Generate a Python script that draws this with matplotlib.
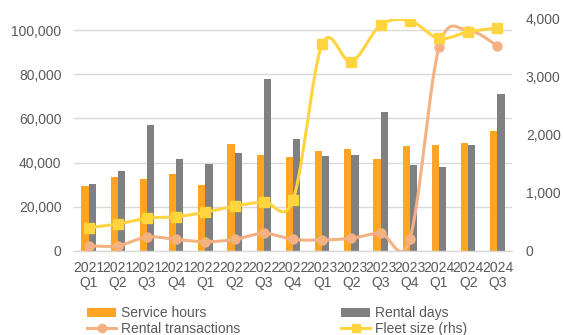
import numpy as np
import matplotlib
matplotlib.use("Agg")
import matplotlib.pyplot as plt
from matplotlib.ticker import FuncFormatter
from matplotlib.patches import Patch
from matplotlib.lines import Line2D

plt.rcParams['font.family'] = ['Liberation Sans', 'DejaVu Sans']

quarters = ["2021\nQ1", "2021\nQ2", "2021\nQ3", "2021\nQ4",
            "2022\nQ1", "2022\nQ2", "2022\nQ3", "2022\nQ4",
            "2023\nQ1", "2023\nQ2", "2023\nQ3", "2023\nQ4",
            "2024\nQ1", "2024\nQ2", "2024\nQ3"]
service_hours = [29500, 33300, 32400, 35000, 29700, 48400, 43600, 42500,
                 45200, 46100, 41500, 47400, 48000, 49000, 54300]
rental_days = [30200, 36100, 57000, 41500, 39400, 44200, 77800, 50700,
               43100, 43600, 62900, 38800, 38100, 47800, 70900]
rental_transactions = [90, 90, 240, 200, 160, 200, 305, 200,
                       190, 220, 305, 205, 3510, 3800, 3535]
fleet_size = [400, 465, 565, 590, 670, 775, 850, 880,
              3565, 3265, 3895, 3970, 3665, 3780, 3845]

ORANGE = "#FFA523"
GREY = "#808080"
SALMON = "#F4B183"
YELLOW = "#FFD43F"
TXT = "#595959"
GRID = "#D9D9D9"


def smooth(x, y, n=30):
    x = np.asarray(x, float)
    y = np.asarray(y, float)
    pts = np.column_stack([x, y])
    out = []
    for i in range(len(pts) - 1):
        p0 = pts[i - 1] if i > 0 else pts[i]
        p1 = pts[i]
        p2 = pts[i + 1]
        p3 = pts[i + 2] if i + 2 < len(pts) else pts[i + 1]
        c1 = p1 + (p2 - p0) / 6.0
        c2 = p2 - (p3 - p1) / 6.0
        t = np.linspace(0, 1, n)[:, None]
        seg = ((1 - t) ** 3) * p1 + 3 * ((1 - t) ** 2) * t * c1 + 3 * (1 - t) * t ** 2 * c2 + t ** 3 * p2
        if i > 0:
            seg = seg[1:]
        out.append(seg)
    out = np.vstack(out)
    return out[:, 0], out[:, 1]


fig = plt.figure(figsize=(5.63, 3.35), dpi=100)
ax = fig.add_axes([74 / 563, 1 - 251 / 335, (512 - 74) / 563, (251 - 19) / 335])
ax2 = ax.twinx()

x = np.arange(len(quarters))
w = 0.245
ax.bar(x - w / 2, service_hours, width=w, color=ORANGE, zorder=2)
ax.bar(x + w / 2, rental_days, width=w, color=GREY, zorder=2)

ax.set_xlim(-0.5, len(quarters) - 0.5)
ax.set_ylim(0, 105000)
ax.set_yticks(np.arange(0, 100001, 20000))
ax.yaxis.set_major_formatter(FuncFormatter(lambda v, p: f"{int(v):,}"))
ax.grid(axis='y', color=GRID, linewidth=1.0, zorder=0)
ax.set_axisbelow(True)
ax.set_xticks(x)
ax.set_xticklabels(quarters, linespacing=1.1)
ax.tick_params(axis='x', length=0, pad=7, labelsize=10, labelcolor=TXT)
ax.tick_params(axis='y', length=0, pad=9, labelsize=10, labelcolor=TXT)
for s in ['top', 'right', 'left']:
    ax.spines[s].set_visible(False)
ax.spines['bottom'].set_color(GRID)
ax.spines['bottom'].set_linewidth(1.0)

sx, sy = smooth(x, rental_transactions)
ax2.plot(sx, sy, color=SALMON, linewidth=2.2, zorder=3, solid_capstyle='round')
ax2.plot(x, rental_transactions, linestyle='none', marker='o', markersize=6.5,
         color=SALMON, zorder=3)
fx, fy = smooth(x, fleet_size)
ax2.plot(fx, fy, color=YELLOW, linewidth=2.2, zorder=4, solid_capstyle='round')
ax2.plot(x, fleet_size, linestyle='none', marker='s', markersize=7,
         color=YELLOW, zorder=4)
ax2.set_ylim(0, 4000)
ax2.set_yticks(np.arange(0, 4001, 1000))
ax2.yaxis.set_major_formatter(FuncFormatter(lambda v, p: f"{int(v):,}"))
ax2.tick_params(axis='y', length=0, pad=10, labelsize=10, labelcolor=TXT)
for s in ['top', 'right', 'left', 'bottom']:
    ax2.spines[s].set_visible(False)

h_sh = Patch(facecolor=ORANGE, label="Service hours")
h_rd = Patch(facecolor=GREY, label="Rental days")
h_rt = Line2D([], [], color=SALMON, linewidth=2.2, marker='o', markersize=6, label="Rental transactions")
h_fs = Line2D([], [], color=YELLOW, linewidth=2.2, marker='s', markersize=6, label="Fleet size (rhs)")

common = dict(loc='upper left', frameon=False, borderpad=0, borderaxespad=0,
              handlelength=2.1, handletextpad=0.35, labelspacing=0.12,
              fontsize=10, labelcolor=TXT, handleheight=0.6)
leg1 = fig.legend(handles=[h_sh, h_rt], bbox_to_anchor=(87 / 563, 1 - 306 / 335), **common)
leg2 = fig.legend(handles=[h_rd, h_fs], bbox_to_anchor=(341 / 563, 1 - 306 / 335), **common)

fig.savefig("out.png", dpi=100)
